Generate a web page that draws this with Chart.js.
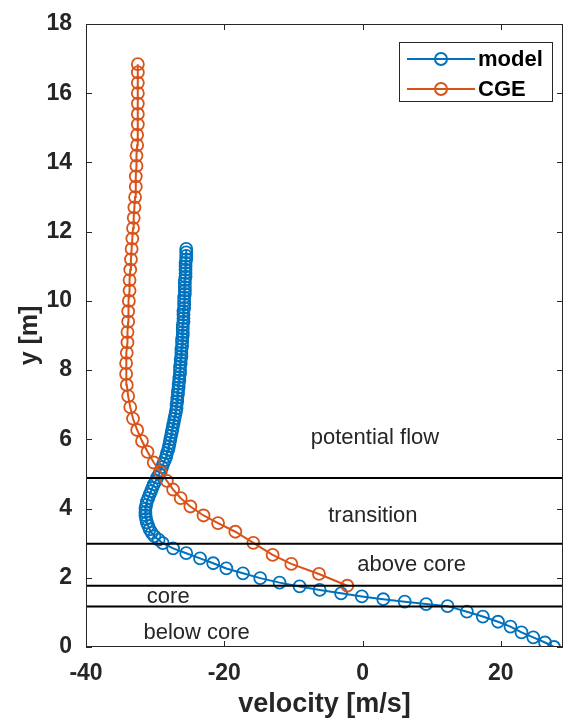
<!DOCTYPE html>
<html>
<head>
<meta charset="utf-8">
<script src="https://cdn.jsdelivr.net/npm/chart.js@4.4.1/dist/chart.umd.min.js"></script>
<style>
  html, body { margin: 0; padding: 0; background: #fff; overflow: hidden; }
  canvas { display: block; }
</style>
</head>
<body>
<canvas id="velChart" width="566" height="721"></canvas>
<script>
// axis ticks
const xTicks = [-40, -20, 0, 20];
const yTicks = [0, 2, 4, 6, 8, 10, 12, 14, 16, 18];

// model profile (velocity vs height)
const modelY = [0.0, 0.13, 0.28, 0.42, 0.59, 0.73, 0.88, 1.02, 1.18, 1.24, 1.31, 1.38, 1.46, 1.55, 1.65, 1.75, 1.86, 1.99, 2.13, 2.27, 2.42, 2.56, 2.71, 2.85, 3.0,
  3.1, 3.2, 3.3, 3.4, 3.5, 3.6, 3.7, 3.8, 3.9, 4.0, 4.1, 4.2, 4.3, 4.4, 4.5, 4.6, 4.7, 4.8, 4.9, 5.0,
  5.1, 5.2, 5.3, 5.4, 5.5, 5.6, 5.7, 5.8, 5.9, 6.0, 6.1, 6.2, 6.3, 6.4, 6.5, 6.6, 6.7, 6.8, 6.9, 7.0,
  7.1, 7.2, 7.3, 7.4, 7.5, 7.6, 7.7, 7.8, 7.9, 8.0, 8.1, 8.2, 8.3, 8.4, 8.5, 8.6, 8.7, 8.8, 8.9, 9.0,
  9.1, 9.2, 9.3, 9.4, 9.5, 9.6, 9.7, 9.8, 9.9, 10.0, 10.1, 10.2, 10.3, 10.4, 10.5, 10.6, 10.7, 10.8, 10.9, 11.0,
  11.1, 11.2, 11.3, 11.4, 11.5];
const modelX = [27.7, 26.4, 24.7, 23.0, 21.4, 19.6, 17.4, 15.1, 12.3, 9.2, 6.1, 3.0, -0.1, -3.1, -6.2, -9.1, -12.0, -14.8, -17.3, -19.7, -21.6, -23.5, -25.5, -27.4, -28.9,
  -29.5, -30.1, -30.5, -30.8, -31.0, -31.2, -31.3, -31.4, -31.4, -31.4, -31.3, -31.2, -31.0, -30.8, -30.6, -30.4, -30.2, -29.9, -29.7, -29.4,
  -29.2, -29.0, -28.8, -28.6, -28.4, -28.3, -28.1, -28.0, -27.9, -27.8, -27.7, -27.6, -27.5, -27.4, -27.3, -27.2, -27.1, -27.0, -26.9, -26.9,
  -26.8, -26.8, -26.7, -26.7, -26.6, -26.6, -26.5, -26.5, -26.4, -26.4, -26.4, -26.3, -26.3, -26.2, -26.2, -26.2, -26.1, -26.1, -26.1, -26.0,
  -26.0, -26.0, -26.0, -25.9, -25.9, -25.9, -25.9, -25.8, -25.8, -25.8, -25.8, -25.7, -25.7, -25.7, -25.7, -25.7, -25.6, -25.6, -25.6, -25.6,
  -25.6, -25.5, -25.5, -25.5, -25.5];

// CGE profile
const cgeY = [1.77, 2.11, 2.40, 2.66, 3.01, 3.33, 3.58, 3.80, 4.06, 4.30, 4.55, 4.80, 5.05, 5.33, 5.64, 5.95, 6.27, 6.60, 6.93, 7.25,
  7.57, 7.89, 8.20, 8.50, 8.80, 9.10, 9.40, 9.70, 10.0, 10.3, 10.6, 10.9, 11.2, 11.5, 11.8, 12.1, 12.4, 12.7, 13.0, 13.3,
  13.6, 13.9, 14.2, 14.5, 14.8, 15.1, 15.4, 15.7, 16.0, 16.3, 16.6, 16.84];
const cgeX = [-2.2, -6.3, -10.3, -13.0, -15.8, -18.4, -20.9, -23.0, -24.9, -26.3, -27.4, -28.3, -29.2, -30.2, -31.1, -31.9, -32.6, -33.2, -33.6, -33.9,
  -34.1, -34.2, -34.2, -34.1, -34.0, -34.0, -33.9, -33.9, -33.8, -33.7, -33.7, -33.6, -33.5, -33.4, -33.3, -33.2, -33.1, -33.0, -32.9, -32.8,
  -32.8, -32.7, -32.7, -32.6, -32.6, -32.5, -32.5, -32.5, -32.5, -32.5, -32.5, -32.5];

// region boundaries and labels
const boundaryY = [4.88, 2.98, 1.77, 1.17];
const regionNames = ['potential flow', 'transition', 'above core', 'core', 'below core'];
const regionX = [1.8, 1.5, 7.1, -28.1, -24.0];
const regionY = [6.04, 3.79, 2.37, 1.45, 0.40];

const X_MIN = -40, X_MAX = 29;
const BLUE = '#0072BD', ORANGE = '#D95319', INK = '#262626';
const FONT = '"Liberation Sans", Arial, Helvetica, sans-serif';

Chart.defaults.font.family = FONT;
Chart.defaults.color = INK;

const toPts = (xs, ys) => xs.map((v, i) => ({ x: v, y: ys[i] }));

const boundarySets = boundaryY.map(v => ({
    label: 'boundary',
    data: [{ x: X_MIN, y: v }, { x: X_MAX, y: v }],
    borderColor: '#000',
    borderWidth: 2,
    pointRadius: 0,
    showLine: true
}));

const overlay = {
    id: 'overlay',
    afterDatasetsDraw(chart) {
        const { ctx, chartArea: a, scales: { x, y } } = chart;
        ctx.save();

        // region labels
        ctx.font = '22px ' + FONT;
        ctx.fillStyle = INK;
        ctx.textAlign = 'center';
        ctx.textBaseline = 'middle';
        regionNames.forEach((t, i) => {
            ctx.fillText(t, x.getPixelForValue(regionX[i]), y.getPixelForValue(regionY[i]));
        });

        // box + inward ticks
        ctx.strokeStyle = INK;
        ctx.lineWidth = 1;
        ctx.strokeRect(a.left + 0.5, a.top + 0.5, a.width - 1, a.height - 1);
        ctx.beginPath();
        xTicks.forEach(v => {
            const px = Math.round(x.getPixelForValue(v)) + 0.5;
            ctx.moveTo(px, a.bottom); ctx.lineTo(px, a.bottom - 6);
            ctx.moveTo(px, a.top); ctx.lineTo(px, a.top + 6);
        });
        yTicks.forEach(v => {
            const py = Math.round(y.getPixelForValue(v)) + 0.5;
            ctx.moveTo(a.left, py); ctx.lineTo(a.left + 6, py);
            ctx.moveTo(a.right, py); ctx.lineTo(a.right - 6, py);
        });
        ctx.stroke();

        // legend box
        const lx = 399, ly = 42, lw = 153, lh = 59;
        ctx.fillStyle = '#fff';
        ctx.fillRect(lx, ly, lw, lh);
        ctx.strokeStyle = INK;
        ctx.strokeRect(lx + 0.5, ly + 0.5, lw, lh);
        [['model', BLUE, 59], ['CGE', ORANGE, 89]].forEach(([name, col, ry]) => {
            ctx.strokeStyle = col;
            ctx.lineWidth = 2;
            ctx.beginPath();
            ctx.moveTo(407, ry); ctx.lineTo(475, ry);
            ctx.stroke();
            ctx.beginPath();
            ctx.arc(441, ry, 6, 0, Math.PI * 2);
            ctx.stroke();
            ctx.fillStyle = '#000';
            ctx.font = 'bold 22px ' + FONT;
            ctx.textAlign = 'left';
            ctx.fillText(name, 478, ry + 1);
        });
        ctx.restore();
    }
};

new Chart(document.getElementById('velChart').getContext('2d'), {
    type: 'scatter',
    data: {
        datasets: [
            ...boundarySets,
            {
                label: 'CGE',
                data: toPts(cgeX, cgeY),
                showLine: true,
                borderColor: ORANGE,
                borderWidth: 2,
                pointRadius: 6,
                pointBorderWidth: 1.8,
                pointBackgroundColor: 'rgba(0,0,0,0)',
                pointBorderColor: ORANGE
            },
            {
                label: 'model',
                data: toPts(modelX, modelY),
                showLine: true,
                borderColor: BLUE,
                borderWidth: 2,
                pointRadius: 6,
                pointBorderWidth: 1.8,
                pointBackgroundColor: 'rgba(0,0,0,0)',
                pointBorderColor: BLUE
            }
        ]
    },
    options: {
        responsive: false,
        animation: false,
        layout: { autoPadding: false, padding: { left: 0, right: 3, top: 24, bottom: 0 } },
        plugins: {
            legend: { display: false },
            tooltip: { enabled: false }
        },
        scales: {
            x: {
                type: 'linear',
                min: X_MIN,
                max: X_MAX,
                afterBuildTicks: s => { s.ticks = xTicks.map(v => ({ value: v })); },
                afterFit: s => { s.height = 74; s.paddingLeft = 0; s.paddingRight = 0; },
                grid: { display: false, drawTicks: false },
                border: { display: false },
                ticks: { padding: 13, color: INK, font: { size: 23, weight: 'bold' } },
                title: {
                    display: true,
                    text: 'velocity [m/s]',
                    color: INK,
                    font: { size: 27, weight: 'bold' },
                    padding: { top: 0, bottom: 0 }
                }
            },
            y: {
                type: 'linear',
                min: 0,
                max: 18,
                afterBuildTicks: s => { s.ticks = yTicks.map(v => ({ value: v })); },
                afterFit: s => { s.width = 86; s.paddingTop = 0; s.paddingBottom = 0; },
                grid: { display: false, drawTicks: false },
                border: { display: false },
                ticks: { padding: 14, color: INK, font: { size: 23, weight: 'bold' } },
                title: {
                    display: true,
                    text: 'y [m]',
                    color: INK,
                    font: { size: 25, weight: 'bold' },
                    padding: { top: 15, bottom: 0 }
                }
            }
        }
    },
    plugins: [overlay]
});
</script>
</body>
</html>
